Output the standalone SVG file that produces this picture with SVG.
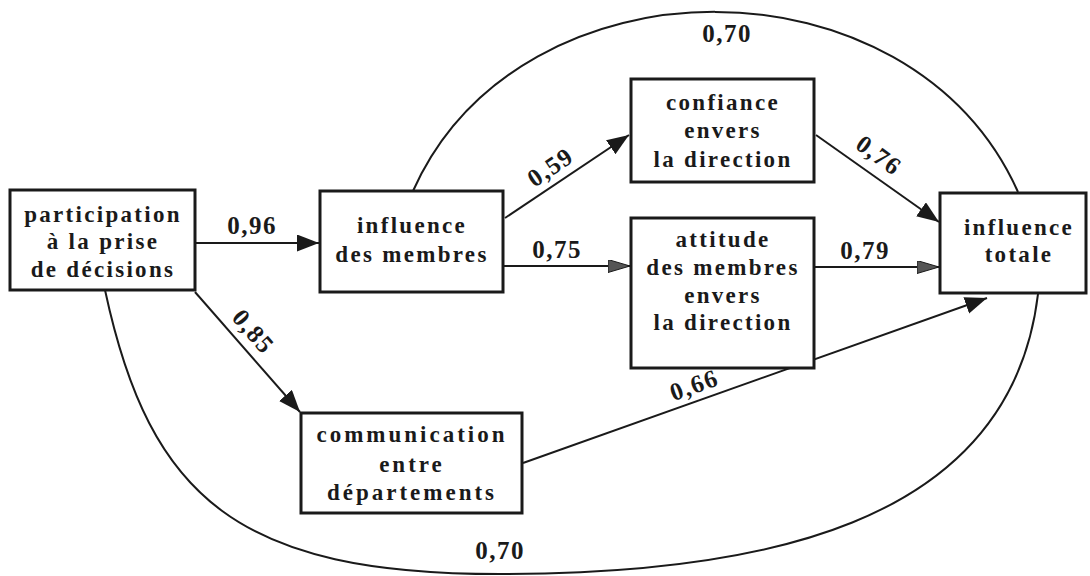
<svg xmlns="http://www.w3.org/2000/svg" width="1090" height="576" viewBox="0 0 1090 576">
<style>
  .box{fill:#fff;stroke:#1a1a1a;stroke-width:3}
  .t{font-family:"Liberation Serif","Times New Roman",serif;font-weight:bold;font-size:23px;letter-spacing:2.3px;fill:#1a1a1a;text-anchor:middle}
  .n{font-family:"Liberation Serif","Times New Roman",serif;font-weight:bold;font-size:25px;letter-spacing:1.5px;fill:#1a1a1a;text-anchor:middle}
  .c{fill:none;stroke:#1a1a1a;stroke-width:2}
</style>
<defs>
  <marker id="ah" markerUnits="userSpaceOnUse" markerWidth="24" markerHeight="18" refX="22" refY="8.5" orient="auto">
    <path d="M0,0 L22,8.5 L0,17 z" fill="#1a1a1a"/>
  </marker>
  <marker id="ahs" markerUnits="userSpaceOnUse" markerWidth="24" markerHeight="14" refX="22" refY="6.5" orient="auto">
    <path d="M0,0 L22,6.5 L0,13 z" fill="#555" stroke="#1a1a1a" stroke-width="1"/>
  </marker>
</defs>
<rect width="1090" height="576" fill="#fff"/>
<g id="connectors">
  <path class="c" d="M413,191 C520,-48 910,-48 1018,192"/>
  <path class="c" d="M105,290 C150,500 240,574 500,574 C750,574 1010,530 1038,294"/>
  <line class="c" x1="195" y1="243" x2="319" y2="243" marker-end="url(#ah)"/>
  <line class="c" x1="505" y1="218" x2="629" y2="135" marker-end="url(#ah)"/>
  <line class="c" x1="503" y1="266" x2="630" y2="266" marker-end="url(#ahs)"/>
  <line class="c" x1="816" y1="135" x2="939" y2="222" marker-end="url(#ah)"/>
  <line class="c" x1="814" y1="267" x2="939" y2="267" marker-end="url(#ahs)"/>
  <line class="c" x1="523" y1="463" x2="987" y2="298" marker-end="url(#ah)"/>
  <line class="c" x1="195" y1="292" x2="300" y2="412" marker-end="url(#ah)"/>
  <text class="n" x="727" y="42">0,70</text>
  <text class="n" x="500" y="559">0,70</text>
  <text class="n" x="252" y="234">0,96</text>
  <text class="n" x="557" y="258">0,75</text>
  <text class="n" x="865" y="259">0,79</text>
  <text class="n" transform="translate(555,174) rotate(-34)">0,59</text>
  <text class="n" transform="translate(874,162) rotate(36)">0,76</text>
  <text class="n" transform="translate(697,393) rotate(-19.6)">0,66</text>
  <text class="n" transform="translate(247,337) rotate(49)">0,85</text>
</g>
<g id="participation">
  <rect class="box" x="10" y="190" width="185" height="100"/>
  <text class="t" x="103" y="222">participation</text>
  <text class="t" x="103" y="249">à la prise</text>
  <text class="t" x="103" y="277">de décisions</text>
</g>
<g id="influence-membres">
  <rect class="box" x="320" y="191" width="183" height="101"/>
  <text class="t" x="412" y="233">influence</text>
  <text class="t" x="412" y="262">des membres</text>
</g>
<g id="confiance">
  <rect class="box" x="631" y="79" width="183" height="103"/>
  <text class="t" x="723" y="110">confiance</text>
  <text class="t" x="723" y="138">envers</text>
  <text class="t" x="723" y="167">la direction</text>
</g>
<g id="attitude">
  <rect class="box" x="631" y="218" width="183" height="150"/>
  <text class="t" x="723" y="247">attitude</text>
  <text class="t" x="723" y="275">des membres</text>
  <text class="t" x="723" y="303">envers</text>
  <text class="t" x="723" y="330">la direction</text>
</g>
<g id="influence-totale">
  <rect class="box" x="940" y="193" width="146" height="100"/>
  <text class="t" x="1019" y="235">influence</text>
  <text class="t" x="1019" y="262">totale</text>
</g>
<g id="communication">
  <rect class="box" x="301" y="413" width="221" height="100"/>
  <text class="t" x="412" y="442" style="letter-spacing:3px">communication</text>
  <text class="t" x="412" y="472" style="letter-spacing:3px">entre</text>
  <text class="t" x="412" y="500" style="letter-spacing:3px">départements</text>
</g>
</svg>
